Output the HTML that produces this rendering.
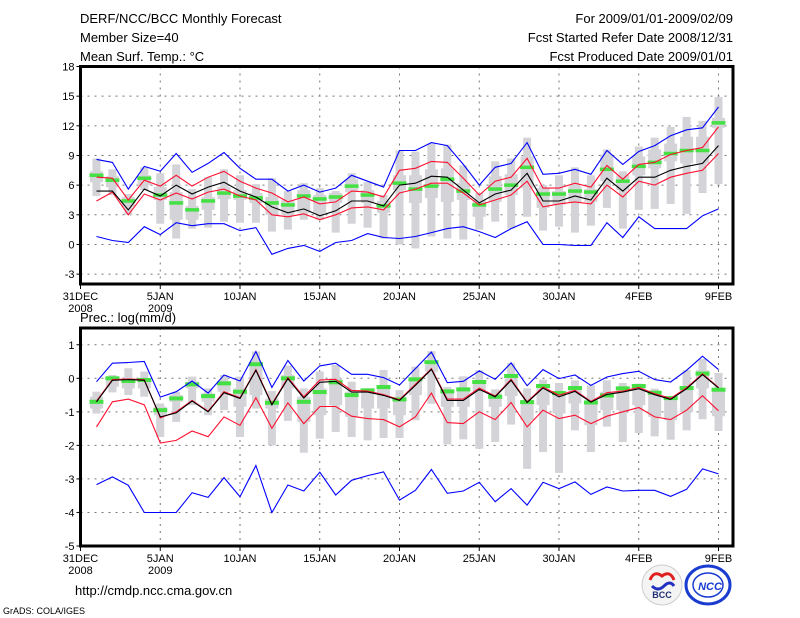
<!DOCTYPE html>
<html><head><meta charset="utf-8"><style>
html,body{margin:0;padding:0;background:#fff;}
svg{display:block;font-family:"Liberation Sans",sans-serif;}
</style></head><body>
<svg id="chart" width="800" height="618" viewBox="0 0 800 618" xmlns="http://www.w3.org/2000/svg">
<text x="80" y="23" font-size="13">DERF/NCC/BCC Monthly Forecast</text>
<text x="80" y="42" font-size="13">Member Size=40</text>
<text x="80" y="61" font-size="13">Mean Surf. Temp.: °C</text>
<text x="733" y="23" font-size="13" text-anchor="end">For 2009/01/01-2009/02/09</text>
<text x="733" y="42" font-size="13" text-anchor="end">Fcst Started Refer Date 2008/12/31</text>
<text x="733" y="61" font-size="13" text-anchor="end">Fcst Produced Date 2009/01/01</text>
<text x="80" y="322" font-size="13">Prec.: log(mm/d)</text>
<text x="75" y="595" font-size="13">http://cmdp.ncc.cma.gov.cn</text>
<text x="3" y="614" font-size="9">GrADS: COLA/IGES</text>
<g>
<circle cx="662" cy="585" r="20" fill="#f4f4f4" stroke="#ccc"/>
<path d="M650 580 q4 -10 12 -4 q8 -6 12 4" fill="none" stroke="#e02020" stroke-width="3"/>
<path d="M652 586 q6 6 12 0 q6 -6 10 0" fill="none" stroke="#2030c0" stroke-width="3"/>
<text x="662" y="598" font-size="9" font-weight="bold" text-anchor="middle" fill="#203070">BCC</text>
</g>
<g>
<ellipse cx="708" cy="585" rx="22" ry="19" fill="none" stroke="#1a3cd0" stroke-width="3"/>
<ellipse cx="708" cy="585" rx="15" ry="12" fill="none" stroke="#1a3cd0" stroke-width="1.5"/>
<text x="710" y="590" font-size="11" font-weight="bold" font-style="italic" text-anchor="middle" fill="#1a3cd0">NCC</text>
</g>
<g id="top"></g>
<g id="bot"></g>
</svg>
<script>
const days=[1,2,3,4,5,6,7,8,9,10,11,12,13,14,15,16,17,18,19,20,21,22,23,24,25,26,27,28,29,30,31,32,33,34,35,36,37,38,39,40];
const xTickDays=[0,5,10,15,20,25,30,35,40];
const xTickLabels=["31DEC","5JAN","10JAN","15JAN","20JAN","25JAN","30JAN","4FEB","9FEB"];
const xTickYears=["2008","2009","","","","","","",""];
// Temperature panel
const tTicks=[-3,0,3,6,9,12,15,18];
const tMax=[8.6,8.3,5.6,7.9,7.4,9.2,7.3,8.2,9.3,7.7,6.6,6.6,5.4,6.0,5.3,5.7,7.0,6.4,5.8,9.5,9.5,10.3,10.0,8.1,6.0,7.8,8.2,10.3,7.1,7.2,7.6,7.1,9.5,8.1,9.4,10.0,11.0,11.6,11.8,13.9];
const tMin=[0.8,0.4,0.2,1.8,1.0,2.2,1.9,2.1,2.1,1.4,1.7,-1.0,-0.4,-0.1,-0.7,0.2,0.4,1.1,0.7,0.6,0.8,1.2,1.6,1.8,1.3,0.7,1.6,2.3,0.0,0.0,-0.1,-0.1,2.2,0.7,2.8,1.6,1.6,1.6,2.9,3.6];
const tRedHi=[6.8,6.7,4.5,6.5,5.9,7.0,5.9,6.8,7.4,6.4,5.7,5.2,4.3,4.8,4.1,4.3,5.4,5.3,4.8,7.5,7.7,8.4,8.3,6.7,5.0,6.4,6.8,8.7,5.7,5.7,6.2,5.8,8.0,6.6,8.1,8.3,9.1,9.5,9.8,11.9];
const tMean=[5.4,5.4,3.5,5.6,4.9,6.0,5.1,5.8,6.3,5.4,4.8,3.8,3.2,3.6,2.9,3.4,4.4,4.4,3.9,6.0,6.2,6.9,6.8,5.5,4.2,5.1,5.5,7.2,4.4,4.4,4.9,4.5,6.7,5.4,6.8,6.8,7.5,7.9,8.2,10.0];
const tRedLo=[4.4,5.3,3.0,5.1,4.5,5.2,4.6,5.3,5.6,4.9,4.5,3.0,2.8,3.1,2.5,3.0,3.7,3.8,3.5,5.2,5.6,6.2,6.2,5.2,4.0,4.5,5.0,6.4,3.8,4.1,4.3,4.1,6.0,4.8,6.4,6.0,6.8,7.2,7.5,9.2];
const tMedian=[7.0,6.5,4.4,6.7,5.0,4.2,3.5,4.4,5.2,4.9,4.7,4.2,4.0,4.9,4.6,4.8,5.9,5.0,3.9,6.2,5.6,5.9,6.6,5.4,4.0,5.6,6.0,7.8,5.1,5.1,5.4,5.3,7.6,6.4,7.9,8.3,9.2,9.5,9.5,12.3];
const tWLo=[4.9,5.0,3.0,5.5,2.1,0.6,1.6,1.7,2.3,2.2,2.2,1.3,1.5,2.5,2.5,1.2,2.1,1.7,0.6,0.0,-0.4,0.8,0.6,0.5,1.5,2.3,1.6,2.8,1.4,1.8,1.2,1.9,3.7,1.6,3.5,3.6,4.1,3.1,5.2,6.1];
const tWHi=[8.7,7.6,5.1,7.8,7.2,8.1,5.6,6.8,7.6,7.0,6.1,6.7,5.4,6.2,5.7,5.4,7.2,6.3,5.0,9.5,9.4,10.2,10.1,8.0,5.2,8.4,8.7,10.8,6.0,7.0,7.8,7.0,9.6,7.4,9.9,10.8,11.9,12.9,12.5,14.9];
const tBLo=[6.3,5.8,3.8,6.0,4.5,2.5,2.5,3.5,4.6,4.5,4.2,3.0,3.0,3.2,3.2,4.2,5.3,4.2,3.2,5.5,4.2,4.7,4.3,4.5,2.8,4.3,5.0,5.7,3.7,4.0,4.2,4.3,6.4,5.5,7.0,7.7,8.4,8.2,8.2,11.8];
const tBHi=[7.4,6.9,4.8,7.0,5.8,5.3,3.9,4.8,5.8,5.5,5.2,4.8,4.5,5.5,5.0,5.2,6.6,5.5,4.4,7.0,7.0,7.6,7.7,6.2,4.5,6.9,7.1,8.9,5.7,5.4,5.9,5.6,9.1,7.0,8.9,9.6,10.2,10.9,10.9,12.8];
// Precipitation panel
const pTicks=[-5,-4,-3,-2,-1,0,1];
const pMax=[-0.1,0.45,0.47,0.5,-0.56,-0.4,-0.08,-0.44,0.1,-0.08,0.8,-0.27,0.53,-0.08,0.37,0.45,0.12,0.12,0.02,-0.2,0.29,0.78,-0.13,-0.09,0.22,-0.03,0.46,-0.22,0.26,-0.01,0.1,-0.21,0.04,0.14,0.21,-0.04,-0.11,0.24,0.66,0.26];
const pMin=[-3.17,-2.94,-3.19,-4,-4,-4,-3.41,-3.55,-2.96,-3.53,-2.6,-4,-3.18,-3.36,-2.8,-3.48,-3.04,-2.9,-2.79,-3.63,-3.34,-2.72,-3.43,-3.36,-3.1,-3.68,-3.29,-3.78,-3.1,-3.29,-3.09,-3.46,-3.24,-3.36,-3.34,-3.34,-3.52,-3.31,-2.7,-2.85];
const pRedLo=[-1.45,-0.7,-0.62,-0.79,-1.93,-1.85,-1.57,-1.74,-1.15,-1.4,-0.58,-1.49,-0.73,-1.35,-0.84,-0.84,-1.13,-1.2,-1.23,-1.45,-1.15,-0.44,-1.32,-1.35,-1.0,-1.23,-0.72,-1.45,-0.95,-1.2,-1.1,-1.35,-1.13,-1.0,-0.87,-1.15,-1.23,-0.95,-0.52,-0.97];
const pMean=[-0.7,-0.06,-0.04,-0.06,-1.15,-1.03,-0.68,-1.0,-0.43,-0.6,0.24,-0.79,-0.01,-0.59,-0.12,-0.09,-0.41,-0.41,-0.51,-0.66,-0.21,0.27,-0.66,-0.66,-0.33,-0.55,-0.06,-0.72,-0.29,-0.55,-0.39,-0.71,-0.48,-0.41,-0.31,-0.49,-0.63,-0.31,0.11,-0.29];
const pRedHi=[-0.68,-0.04,-0.02,-0.04,-1.18,-1.0,-0.66,-0.98,-0.4,-0.58,0.26,-0.77,0.02,-0.55,-0.05,-0.03,-0.36,-0.38,-0.49,-0.64,-0.18,0.29,-0.62,-0.62,-0.29,-0.53,-0.03,-0.7,-0.26,-0.5,-0.36,-0.69,-0.43,-0.38,-0.27,-0.46,-0.6,-0.28,0.13,-0.27];
const pMedian=[-0.7,0.0,-0.08,-0.05,-0.95,-0.6,-0.18,-0.53,-0.15,-0.4,0.42,-0.73,0.0,-0.7,-0.41,-0.12,-0.5,-0.36,-0.26,-0.63,-0.03,0.48,-0.39,-0.33,-0.11,-0.55,0.07,-0.71,-0.23,-0.44,-0.29,-0.72,-0.51,-0.3,-0.23,-0.43,-0.59,-0.29,0.14,-0.34];
const pWLo=[-1.05,-0.42,-0.5,-0.55,-1.75,-1.3,-0.8,-1.1,-0.95,-1.75,-0.9,-2.0,-1.27,-2.22,-1.8,-1.6,-1.75,-1.85,-1.78,-1.78,-1.25,-0.76,-1.97,-1.82,-2.1,-1.9,-1.38,-2.7,-2.2,-2.82,-1.55,-2.2,-1.44,-1.9,-1.63,-1.73,-1.83,-1.55,-1.22,-1.57];
const pWHi=[-0.4,0.1,0.3,0.2,-0.75,-0.4,0.05,-0.3,0.1,0.05,0.8,-0.38,0.38,-0.3,0.2,0.4,-0.1,-0.3,0.25,-0.35,0.35,0.81,-0.26,0.06,0.24,-0.33,0.45,-0.3,-0.04,-0.14,-0.06,-0.21,-0.06,-0.14,-0.16,-0.31,-0.56,0.24,0.58,0.16];
const pBLo=[-0.9,-0.25,-0.3,-0.3,-1.1,-0.7,-0.3,-0.7,-0.4,-0.85,-0.5,-0.9,-0.3,-1.3,-1.1,-0.8,-1.15,-0.9,-0.9,-1.1,-0.5,0.2,-0.85,-0.85,-0.4,-0.85,-0.53,-1.25,-0.8,-1.05,-0.75,-1.4,-0.95,-0.95,-0.8,-1.15,-1.25,-1.0,-0.3,-1.13];
const pBHi=[-0.55,0.05,0.0,0.0,-0.85,-0.5,-0.1,-0.45,-0.1,-0.3,0.5,-0.6,0.1,-0.55,-0.3,0.0,-0.4,-0.3,-0.2,-0.55,0.0,0.4,-0.36,-0.31,-0.06,-0.45,0.0,-0.7,-0.3,-0.4,-0.25,-0.7,-0.4,-0.35,-0.25,-0.45,-0.65,-0.25,0.24,-0.35];

const NS="http://www.w3.org/2000/svg";
function mk(parent,tag,attrs){const e=document.createElementNS(NS,tag);for(const k in attrs)e.setAttribute(k,attrs[k]);parent.appendChild(e);return e;}
const X0=80.5,XR=733,DX=15.95;
function xs(d){return X0+d*DX;}
function panel(g,top,bot,vmin,vmax,ticks,S,name){
  const ys=v=>bot-(v-vmin)/(vmax-vmin)*(bot-top);
  // grid
  ticks.forEach(t=>{const yy=ys(t);if(yy>top+1&&yy<bot-1){const l=mk(g,'line',{x1:X0,x2:XR,y1:yy,y2:yy,stroke:'#777','stroke-dasharray':'2,5','stroke-width':1});
    }
    const tl=mk(g,'line',{x1:X0-4,x2:X0,y1:yy,y2:yy,stroke:'#000'});
    
    const tx=mk(g,'text',{x:X0-6,y:yy+4,'font-size':11,'text-anchor':'end'});tx.textContent=t;
    });
  xTickDays.forEach((d,i)=>{const xx=xs(d);
    if(d>0){const l=mk(g,'line',{x1:xx,x2:xx,y1:top,y2:bot,stroke:'#777','stroke-dasharray':'2,5'});
      }
    const tl=mk(g,'line',{x1:xx,x2:xx,y1:bot,y2:bot+5,stroke:'#000'});
    
    const tx=mk(g,'text',{x:xx,y:bot+16,'font-size':11,'text-anchor':'middle'});tx.textContent=xTickLabels[i];
    
    if(xTickYears[i]){const ty=mk(g,'text',{x:xx,y:bot+28,'font-size':11,'text-anchor':'middle'});ty.textContent=xTickYears[i];
      }});
  days.forEach((d,i)=>{const xx=xs(d);
    const w=mk(g,'rect',{x:xx-4,y:ys(S.wHi[i]),width:8,height:Math.max(1,ys(S.wLo[i])-ys(S.wHi[i])),fill:'#d3d3d8'});
    
    const b=mk(g,'rect',{x:xx-6.5,y:ys(S.bHi[i]),width:13,height:Math.max(1,ys(S.bLo[i])-ys(S.bHi[i])),fill:'#d3d3d8'});
    });
  days.forEach((d,i)=>{const xx=xs(d);
    const m=mk(g,'rect',{x:xx-7,y:ys(S.med[i])-S.mh/2,width:14,height:S.mh,fill:'#44e044'});
    });
  const lines=[[S.min,'#0000ff','min-line'],[S.max,'#0000ff','max-line'],[S.rLo,'#ff1030','lower-percentile-line'],[S.rHi,'#ff1030','upper-percentile-line'],[S.mean,'#000','mean-line']];
  lines.forEach(L=>{const pts=days.map((d,i)=>xs(d).toFixed(1)+','+ys(L[0][i]).toFixed(1)).join(' ');
    const p=mk(g,'polyline',{points:pts,fill:'none',stroke:L[1],'stroke-width':1.1});
    });
  const f=mk(g,'rect',{x:X0,y:top,width:XR-X0,height:bot-top,fill:'none',stroke:'#000','stroke-width':3});
  
}
panel(document.getElementById('top'),66.5,284,-4,18,tTicks,{max:tMax,min:tMin,rHi:tRedHi,rLo:tRedLo,mean:tMean,med:tMedian,wLo:tWLo,wHi:tWHi,bLo:tBLo,bHi:tBHi,mh:3.5},'temp');
panel(document.getElementById('bot'),328,546,-5,1.5,pTicks,{max:pMax,min:pMin,rHi:pRedHi,rLo:pRedLo,mean:pMean,med:pMedian,wLo:pWLo,wHi:pWHi,bLo:pBLo,bHi:pBHi,mh:4},'prec');
</script>
</body></html>
